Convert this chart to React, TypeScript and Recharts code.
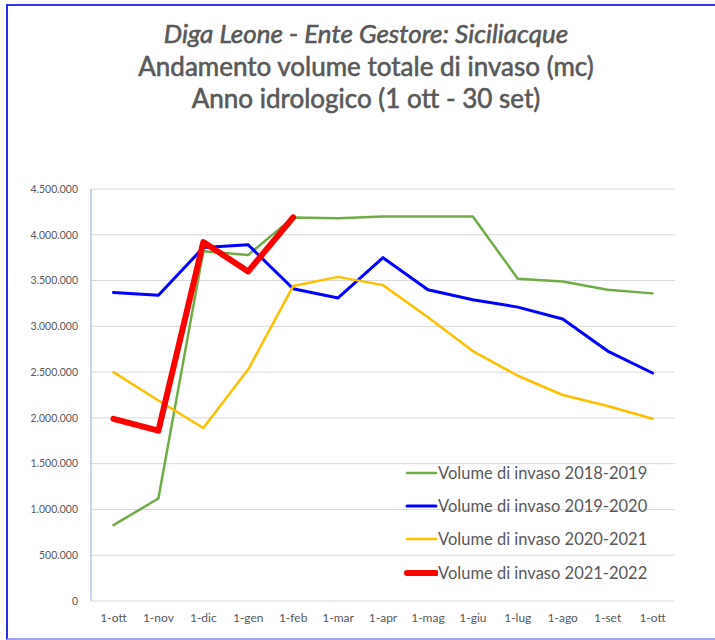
import React from "react";
import { LineChart, Line, XAxis, YAxis, CartesianGrid, Legend } from "recharts";

const months = ["1-ott", "1-nov", "1-dic", "1-gen", "1-feb", "1-mar", "1-apr", "1-mag", "1-giu", "1-lug", "1-ago", "1-set", "1-ott"];

const vol1819 = [828000, 1120000, 3820000, 3780000, 4190000, 4180000, 4200000, 4200000, 4200000, 3520000, 3490000, 3400000, 3360000];
const vol1920 = [3370000, 3340000, 3860000, 3890000, 3410000, 3310000, 3750000, 3400000, 3290000, 3210000, 3080000, 2730000, 2490000];
const vol2021 = [2500000, 2190000, 1890000, 2530000, 3440000, 3540000, 3450000, 3100000, 2730000, 2460000, 2250000, 2130000, 1990000];
const vol2122 = [1990000, 1860000, 3920000, 3600000, 4190000, null, null, null, null, null, null, null, null];

const yTicks = [0, 500000, 1000000, 1500000, 2000000, 2500000, 3000000, 3500000, 4000000, 4500000];

const titleLines = [
  "Diga Leone - Ente Gestore: Siciliacque",
  "Andamento volume totale di invaso (mc)",
  "Anno idrologico (1 ott - 30 set)",
];

const series = [
  { key: "v1819", name: "Volume di invaso 2018-2019", color: "#70AD47", width: 2.5 },
  { key: "v1920", name: "Volume di invaso 2019-2020", color: "#0000FF", width: 3 },
  { key: "v2021", name: "Volume di invaso 2020-2021", color: "#FFC000", width: 2.5 },
  { key: "v2122", name: "Volume di invaso 2021-2022", color: "#FF0000", width: 6 },
];

const data = months.map((m, i) => ({
  idx: i,
  month: m,
  v1819: vol1819[i],
  v1920: vol1920[i],
  v2021: vol2021[i],
  v2122: vol2122[i],
}));

// month positions and the edges between months (for the tick marks)
const monthTicks = months.map((_, i) => i);
const edgeTicks = months.map((_, i) => i - 0.5).concat(months.length - 0.5);
const xDomain = [-0.5, months.length - 0.5];

const FONT = "Lato, 'Open Sans', sans-serif";
const GREY = "#595959";
const AXIS = "#8FAADC";

const fmt = (v: number) => String(v).replace(/\B(?=(\d{3})+(?!\d))/g, ".");

function LegendBox(props: any) {
  const payload = props.payload || [];
  return (
    <div style={{ fontFamily: FONT }}>
      {payload.map((p: any) => {
        const s = series.find((x) => x.key === p.dataKey);
        return (
          <div key={p.value} style={{ display: "flex", alignItems: "center", height: 33.4 }}>
            <svg width={34} height={10} style={{ display: "block" }}>
              <line x1={3} y1={5} x2={32} y2={5} stroke={p.color} strokeWidth={s ? s.width : 2} strokeLinecap="round" />
            </svg>
            <span style={{ fontSize: 16.5, color: GREY, whiteSpace: "nowrap" }}>{p.value}</span>
          </div>
        );
      })}
    </div>
  );
}

export default function App() {
  return (
    <div style={{ position: "absolute", left: 0, top: 0, width: 715, height: 640, background: "#fff", fontFamily: FONT, overflow: "hidden" }}>
      <div
        style={{
          position: "absolute",
          left: 6,
          top: 4,
          width: 709,
          height: 636,
          boxSizing: "border-box",
          borderTop: "2px solid #3434F2",
          borderLeft: "2px solid #2A2AEE",
          borderBottom: "2px solid #A4A4EE",
        }}
      />
      {titleLines.map((t, i) => (
        <div
          key={i}
          style={{
            position: "absolute",
            left: 16,
            width: 700,
            top: 17 + i * 32.5,
            textAlign: "center",
            fontSize: 26,
            lineHeight: "32px",
            fontWeight: 400,
            fontStyle: i === 0 ? "italic" : "normal",
            color: GREY,
            whiteSpace: "nowrap",
            WebkitTextStroke: "0.6px #595959",
          }}
        >
          {t}
        </div>
      ))}
      <div style={{ position: "absolute", left: 0, top: 0 }}>
        <LineChart width={715} height={640} data={data} margin={{ top: 189, right: 40, left: 0, bottom: 0 }}>
          <CartesianGrid stroke="#D9D9D9" vertical={false} />
          <XAxis
            xAxisId="edges"
            type="number"
            dataKey="idx"
            domain={xDomain}
            ticks={edgeTicks}
            height={0}
            tick={false}
            tickSize={5}
            tickLine={{ stroke: AXIS }}
            axisLine={{ stroke: AXIS }}
            allowDataOverflow
          />
          <XAxis
            type="number"
            dataKey="idx"
            domain={xDomain}
            ticks={monthTicks}
            tickFormatter={(i: number) => months[i]}
            height={39}
            axisLine={false}
            tickLine={false}
            tickMargin={6}
            interval={0}
            allowDataOverflow
            tick={{ fill: GREY, fontSize: 12, fontFamily: FONT }}
          />
          <YAxis
            width={91}
            domain={[0, 4500000]}
            ticks={yTicks}
            tickFormatter={fmt}
            axisLine={{ stroke: AXIS }}
            tickLine={false}
            tickMargin={7}
            tick={{ fill: GREY, fontSize: 10.5, fontFamily: FONT }}
          />
          {series.map((s) => (
            <Line
              key={s.key}
              type="linear"
              dataKey={s.key}
              name={s.name}
              stroke={s.color}
              strokeWidth={s.width}
              strokeLinejoin="round"
              strokeLinecap="round"
              dot={false}
              activeDot={false}
              isAnimationActive={false}
            />
          ))}
          <Legend
            layout="vertical"
            align="center"
            verticalAlign="middle"
            content={<LegendBox />}
            wrapperStyle={{ left: 404, top: 456, width: 290 }}
          />
        </LineChart>
      </div>
    </div>
  );
}
